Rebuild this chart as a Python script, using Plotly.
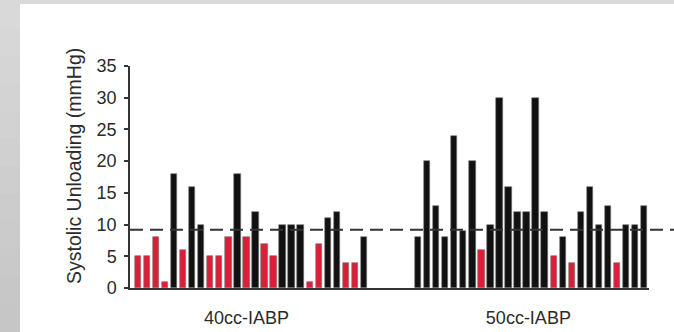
import plotly.graph_objects as go

# ---- data ----
cc40_values = [5, 5, 8, 1, 18, 6, 16, 10, 5, 5, 8, 18, 8, 12, 7, 5, 10, 10, 10, 1, 7, 11, 12, 4, 4, 8]
cc40_colors = ["r", "r", "r", "r", "k", "r", "k", "k", "r", "r", "r", "k", "r", "k", "r", "r",
               "k", "k", "k", "r", "r", "k", "k", "r", "r", "k"]
cc50_values = [8, 20, 13, 8, 24, 9, 20, 6, 10, 30, 16, 12, 12, 30, 12, 5, 8, 4, 12, 16, 10, 13, 4, 10, 10, 13]
cc50_colors = ["k", "k", "k", "k", "k", "k", "k", "r", "k", "k", "k", "k", "k", "k", "k", "r",
               "k", "r", "k", "k", "k", "k", "r", "k", "k", "k"]
group_labels = ["40cc-IABP", "50cc-IABP"]
group_gap = 5
threshold = 9.2
y_ticks = [0, 5, 10, 15, 20, 25, 30, 35]

RED = "#dc1f38"
BLACK = "#111111"
cmap = {"r": RED, "k": BLACK}

x40 = list(range(len(cc40_values)))
start50 = len(cc40_values) + group_gap
x50 = [start50 + i for i in range(len(cc50_values))]

xs = x40 + x50
ys = cc40_values + cc50_values
cols = [cmap[c] for c in cc40_colors + cc50_colors]

W, H = 674, 332
ml, mr, mt, mb = 130, 25, 66, 44
pw, ph = W - ml - mr, H - mt - mb

fig = go.Figure()
fig.add_trace(go.Bar(x=xs, y=ys, marker=dict(color=cols, line=dict(width=0.6, color="#777777")),
                     width=0.7, showlegend=False, hoverinfo="skip"))

c40 = sum(x40) / len(x40)
c50 = sum(x50) / len(x50)

font = dict(family="Liberation Sans, Arial, sans-serif", size=18, color="#2b2b2b")

def px2x(p):
    return (p - ml) / pw

def px2y(p):
    return (H - mb - p) / ph

shapes = []
# gray frame (left + top), slight vertical gradient (overlapping bands to avoid seams)
n = 12
for i in range(n):
    g = int(0xd9 - (0xd9 - 0xc6) * i / (n - 1))
    col = f"rgb({g},{g},{g})"
    top = H * i / n
    bot = min(H, H * (i + 1) / n + 2)
    shapes.append(dict(type="rect", xref="paper", yref="paper",
                       x0=px2x(0), x1=px2x(20), y0=px2y(bot), y1=px2y(top),
                       fillcolor=col, line=dict(width=0), layer="below"))
shapes.append(dict(type="rect", xref="paper", yref="paper",
                   x0=px2x(0), x1=px2x(W), y0=px2y(4), y1=px2y(0),
                   fillcolor="#d9d9d9", line=dict(width=0), layer="below"))
# threshold dashed line
shapes.append(dict(type="line", xref="paper", yref="y", x0=0, x1=px2x(W), y0=threshold, y1=threshold,
                   line=dict(color="#333333", width=2, dash="13px,7px"), layer="above"))

fig.update_layout(
    width=W, height=H,
    margin=dict(l=ml, r=mr, t=mt, b=mb, autoexpand=False),
    paper_bgcolor="white", plot_bgcolor="white",
    bargap=0,
    font=font,
    shapes=shapes,
    xaxis=dict(range=[-0.885, x50[-1] + 0.55], showgrid=False, zeroline=False,
               showline=True, linecolor="#333333", linewidth=1.5,
               tickvals=[c40 - 0.5, c50 - 0.3], ticktext=group_labels, ticks="",
               ticklabelstandoff=13, tickfont=font),
    yaxis=dict(range=[0, 35], tickvals=y_ticks, showgrid=False, zeroline=False,
               showline=True, linecolor="#333333", linewidth=1.5,
               ticks="outside", ticklen=4, tickwidth=1.5, tickcolor="#333333",
               ticklabelstandoff=4, tickfont=font),
    annotations=[dict(text="Systolic Unloading (mmHg)", xref="paper", yref="paper",
                      x=px2x(74), y=px2y(166), textangle=-90, showarrow=False,
                      font=dict(family=font["family"], size=19.5, color=font["color"]),
                      xanchor="center", yanchor="middle")],
)

fig.write_html("out.html")
